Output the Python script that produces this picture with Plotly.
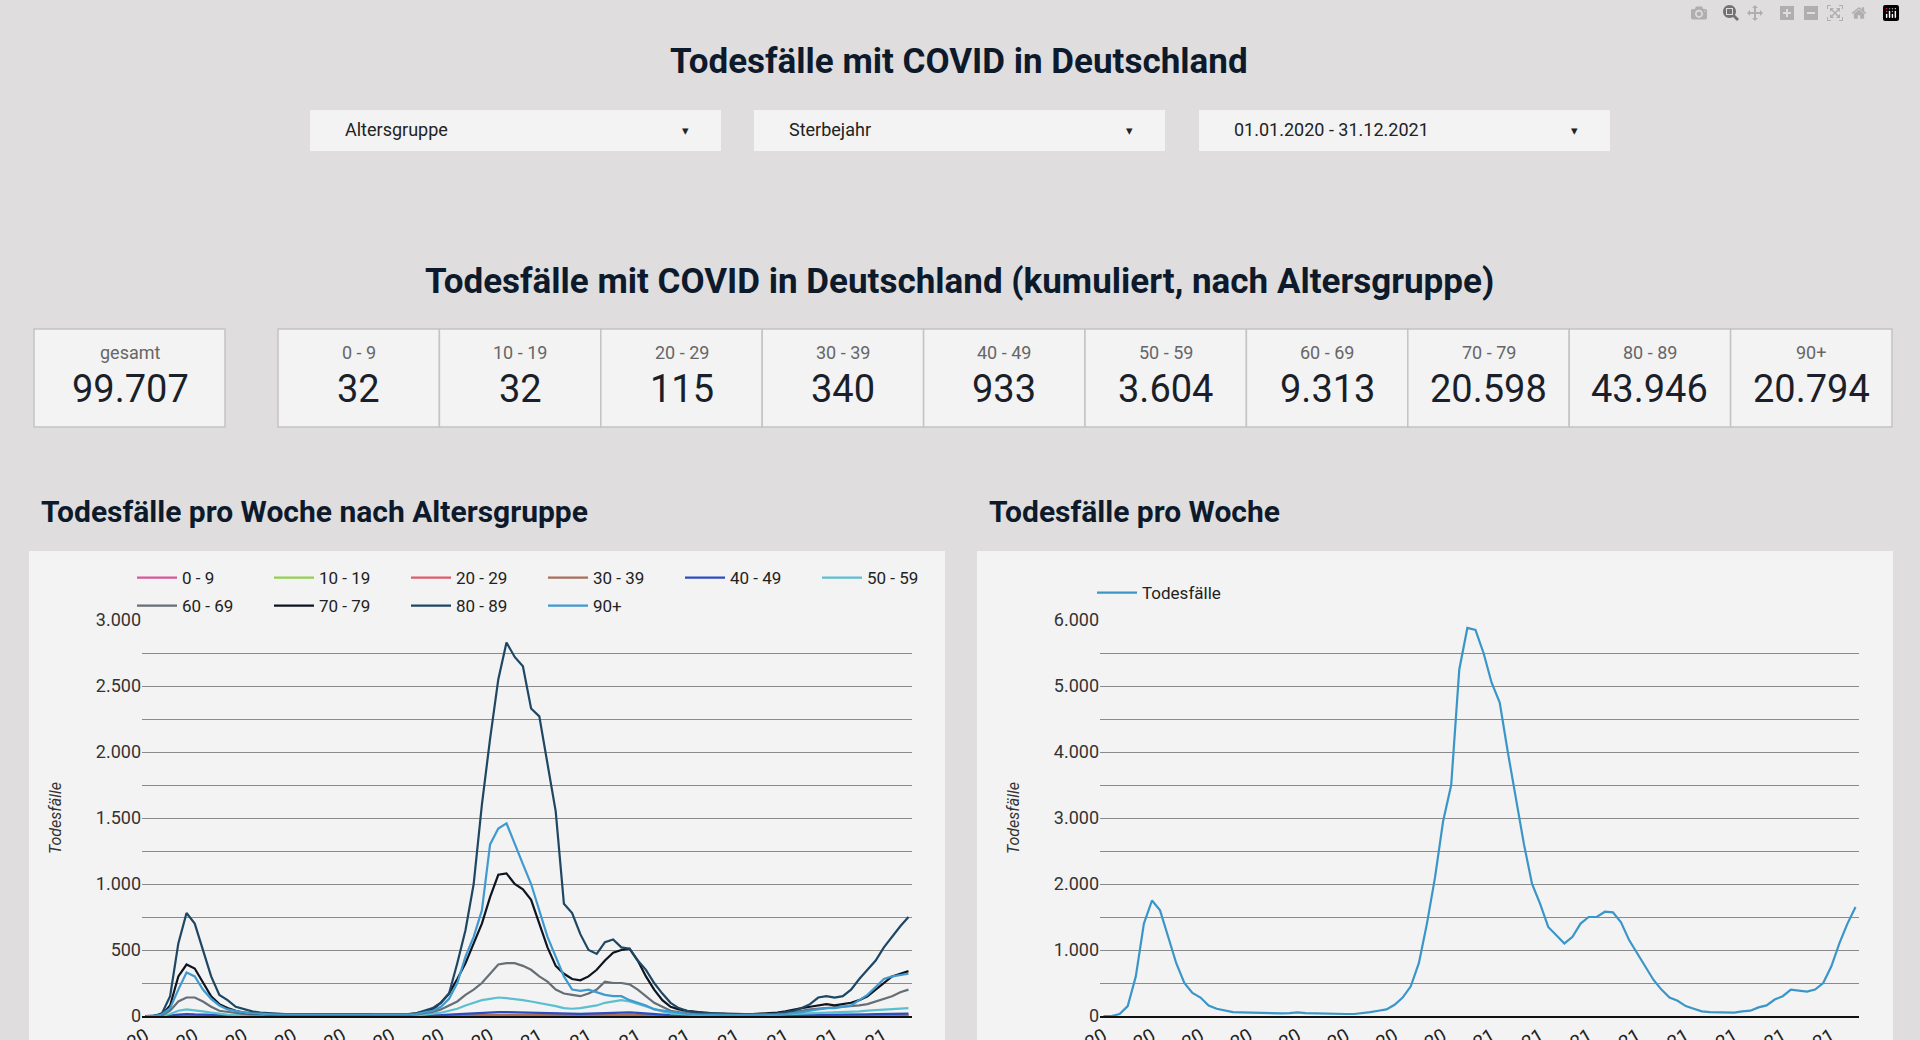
import pandas as pd
import plotly.graph_objects as go

W, H = 1905, 1300

age_groups = ["0 - 9", "10 - 19", "20 - 29", "30 - 39", "40 - 49", "50 - 59", "60 - 69", "70 - 79", "80 - 89", "90+"]
age_colors = ["#d6589c", "#93cf4f", "#e05a6d", "#a86e58", "#2c4cc2", "#5bbfcf", "#666e76", "#0e1521", "#1f4763", "#3f9ad0"]
card_totals = ["32", "32", "115", "340", "933", "3.604", "9.313", "20.598", "43.946", "20.794"]
total_all = "99.707"

weeks = pd.date_range("2020-03-02", periods=94, freq="7D")

total = [0,0,30,150,600,1400,1750,1600,1200,800,
         500,350,280,160,110,80,60,55,50,45,
         40,40,40,45,55,45,40,40,35,35,
         30,30,40,60,80,100,170,280,450,800,
         1400,2100,2950,3500,5250,5880,5850,5500,5050,4750,
         4000,3300,2600,2000,1700,1350,1220,1100,1200,1400,
         1500,1500,1580,1570,1420,1150,950,750,550,400,
         280,230,150,110,70,60,60,55,50,70,
         80,130,160,250,300,400,380,370,400,500,
         750,1100,1400,1650]

a0 = [0]*4 + [1,1,1,0] + [0]*30 + [0,1,1,1,1,1,1,0,0,1,1,0] + [0]*44
a1 = [0]*4 + [1,1,1,1,0] + [0]*30 + [1,1,1,1,0,1,1,1,1,0,1] + [0]*39 + [1,0,0,1,1,1]
a2 = [0,0,0,1,1,2,2,1,1,0, 0,0,0,0,0,0,0,0,0,0, 0,0,0,0,0,0,0,0,0,0,
      0,0,0,0,1,1,1,2,2,3, 3,4,4,4,4,4,3,3,3,2, 2,2,2,2,3,3,3,4,4,3,
      3,2,2,1,1,1,0,0,0,0, 0,0,0,0,0,0,0,0,1,1, 1,1,1,1,1,1,1,2,2,2,
      2,2,2,3]
a3 = [0,0,0,1,3,5,4,3,2,1, 1,1,1,0,0,0,0,0,0,0, 0,0,0,0,0,0,0,0,0,0,
      0,0,0,1,1,1,2,3,4,6, 7,8,9,10,10,9,9,8,7,6, 6,5,5,5,6,7,8,9,10,9,
      8,6,4,3,2,1,1,1,1,1, 1,1,1,1,1,1,1,1,1,2, 2,2,2,3,3,3,3,4,4,4,
      5,5,5,6]
a4 = [0,0,1,4,10,15,12,10,7,4, 3,2,2,1,1,1,1,1,1,1, 1,1,1,1,1,1,1,1,1,1,
      1,1,1,2,3,4,6,10,14,18, 22,25,28,30,30,28,26,24,22,20, 18,16,15,16,18,20,24,28,30,28,
      24,18,14,10,6,4,3,3,2,2, 2,2,2,2,2,2,3,3,4,5, 6,7,8,8,9,10,10,12,13,14,
      15,16,17,18]
a5 = [0,0,2,15,40,50,45,35,25,15, 10,8,6,5,4,3,3,2,2,2, 2,2,2,2,3,2,2,2,2,2,
      2,3,4,6,10,15,25,40,55,80, 100,120,130,140,135,130,120,110,100,90,
      75,60,55,60,70,80,100,110,120,110, 90,70,50,35,20,15,10,8,8,7,
      6,6,5,5,6,6,8,10,12,15, 18,20,22,25,25,28,30,35,40,45, 50,55,58,60]
a6 = [0,0,5,40,110,140,140,110,70,40, 30,20,15,12,10,8,6,6,6,5, 5,5,5,5,6,5,5,5,5,5,
      5,6,8,12,20,30,50,80,110,160, 200,250,320,390,400,400,380,350,300,260,
      200,170,160,150,170,200,260,250,250,240, 200,150,100,70,40,30,25,20,18,15,
      12,12,10,10,12,12,15,18,25,30, 40,50,55,60,60,65,70,80,90,110, 130,150,180,200]
a7 = [0,0,10,80,300,390,360,250,150,90, 60,40,25,20,15,12,10,10,10,8, 8,8,8,8,10,8,8,8,8,8,
      8,10,12,20,35,50,100,170,280,400, 550,700,900,1070,1080,1000,960,880,700,520,
      380,320,280,270,300,350,420,480,500,510, 420,300,200,120,70,50,40,30,25,20,
      18,15,15,15,15,18,20,25,35,50, 60,70,80,90,80,90,100,120,150,200, 250,300,320,340]
a8 = [0,0,20,150,550,780,700,500,300,160, 120,70,50,35,25,20,18,15,15,15, 15,15,15,15,18,15,15,15,12,12,
      12,12,15,20,40,60,100,170,400,650, 1000,1600,2100,2550,2830,2720,2650,2330,2270,1900,
      1550,850,780,620,500,470,560,580,520,510, 420,350,250,170,100,60,40,30,25,20,
      15,15,12,12,12,15,15,20,30,40, 60,90,140,150,140,150,200,280,350,420, 520,600,680,750]
a9 = [0,0,10,60,200,330,300,200,130,80, 50,35,25,20,15,12,10,10,10,8, 8,8,8,8,10,8,8,8,8,8,
      8,8,10,15,25,40,70,130,250,450, 600,800,1300,1420,1460,1300,1150,1000,800,600,
      450,300,200,190,200,180,160,150,150,120, 100,80,50,40,30,20,15,12,10,10,
      8,8,8,8,8,10,10,12,15,20, 30,40,50,60,60,70,80,120,160,220, 280,300,310,320]
age_series = [a0, a1, a2, a3, a4, a5, a6, a7, a8, a9]
age_series = [(s + [0]*94)[:94] for s in age_series]

def px(x): return x / W
def py(y): return 1 - y / H

fig = go.Figure()
for i, (name, col, s) in enumerate(zip(age_groups, age_colors, age_series)):
    fig.add_trace(go.Scatter(x=weeks, y=s, name=name, mode="lines",
                             line=dict(color=col, width=2.2),
                             legend="legend" if i < 6 else "legend3",
                             xaxis="x", yaxis="y"))
fig.add_trace(go.Scatter(x=weeks, y=total, name="Todesfälle", mode="lines",
                         line=dict(color="#3a96c8", width=2.2), legend="legend2",
                         xaxis="x2", yaxis="y2"))

FONT = "Roboto"
TXT = "#0d1a2b"
shapes, ann = [], []

def rect(x0, y0, x1, y1, fill, line=None):
    shapes.append(dict(type="rect", xref="paper", yref="paper", x0=px(x0), x1=px(x1),
                       y0=py(y1), y1=py(y0), fillcolor=fill,
                       line=dict(color=line or fill, width=1.5 if line else 0), layer="below"))

def text(x, y, t, size, color=TXT, xanchor="center", bold=False, family=FONT):
    ann.append(dict(xref="paper", yref="paper", x=px(x), y=py(y), text=f"<b>{t}</b>" if bold else t,
                    showarrow=False, xanchor=xanchor, yanchor="middle",
                    font=dict(size=size, color=color, family=family)))

text(959, 61, "Todesfälle mit COVID in Deutschland", 35, bold=True)
text(959, 282, "Todesfälle mit COVID in Deutschland (kumuliert, nach Altersgruppe)", 35, bold=True)

for x0, label in [(310, "Altersgruppe"), (754, "Sterbejahr"), (1199, "01.01.2020 - 31.12.2021")]:
    rect(x0, 110, x0 + 411, 151, "#f3f3f3")
    text(x0 + 33, 130, label, 18, color="#222", xanchor="left")
    text(x0 + 375, 131, "▾", 13, color="#222")

rect(34, 329, 225, 427, "#f3f3f3", "#c4c4c4")
text(130, 352, "gesamt", 18, color="#666")
text(130, 389, total_all, 38, color="#1b1f2a")
cw = (1892 - 278) / 10
for i, (g, v) in enumerate(zip(age_groups, card_totals)):
    x0 = 278 + i * cw
    rect(x0, 329, x0 + cw, 427, "#f3f3f3", "#c4c4c4")
    text(x0 + cw / 2, 352, g, 18, color="#666")
    text(x0 + cw / 2, 389, v, 38, color="#1b1f2a")

text(39, 511, "Todesfälle pro Woche nach Altersgruppe", 30, xanchor="left", bold=True)
text(987, 511, "Todesfälle pro Woche", 30, xanchor="left", bold=True)
rect(29, 551, 945, H, "#f3f3f3")
rect(977, 551, 1893, H, "#f3f3f3")

tickvals = list(weeks[::6])
axis_common = dict(type="date", tickvals=tickvals, tickformat="%d.%m.%Y", tickangle=-30,
                   showgrid=False, showline=True, linecolor="#111", linewidth=1.5, automargin=False,
                   tickfont=dict(size=19, color="#222", family=FONT), ticks="")
y_common = dict(showgrid=True, gridcolor="#8a8a8a", gridwidth=1.3, zeroline=False, automargin=False,
                tickformat=",", tickfont=dict(size=18, color="#333", family=FONT), ticks="",
                title=dict(text="<i>Todesfälle</i>", font=dict(size=16, color="#333", family=FONT)))
leg = dict(orientation="h", xanchor="left", yanchor="top", entrywidth=82,
           bgcolor="rgba(0,0,0,0)", font=dict(size=17, color="#222", family=FONT), itemwidth=40)

fig.update_layout(
    width=W, height=H, margin=dict(l=0, r=0, t=0, b=0, autoexpand=False),
    paper_bgcolor="#dfdddd", plot_bgcolor="rgba(0,0,0,0)",
    separators=",.", font=dict(family=FONT),
    shapes=shapes, annotations=ann,
    xaxis=dict(domain=[px(142), px(912)], anchor="y", **axis_common,
               range=[weeks[0] - pd.Timedelta(days=3), weeks[-1] + pd.Timedelta(days=3)]),
    yaxis=dict(domain=[py(1016), py(620)], anchor="x", range=[0, 3000], dtick=500,
               minor=dict(dtick=250, showgrid=True, gridcolor="#8a8a8a", gridwidth=1.3),
               title_standoff=30, **y_common),
    xaxis2=dict(domain=[px(1100), px(1859)], anchor="y2", **axis_common,
                range=[weeks[0] - pd.Timedelta(days=3), weeks[-1] + pd.Timedelta(days=3)]),
    yaxis2=dict(domain=[py(1016), py(620)], anchor="x2", range=[0, 6000], dtick=1000,
                minor=dict(dtick=500, showgrid=True, gridcolor="#8a8a8a", gridwidth=1.3),
                title_standoff=30, **y_common),
    legend=dict(x=px(132), y=py(560), **leg),
    legend3=dict(x=px(132), y=py(588), **leg),
    legend2=dict(x=px(1092), y=py(575), **leg),
)
fig.write_html("out.html",
               post_script="document.body.style.margin='0';document.body.style.background='#dfdddd';")
